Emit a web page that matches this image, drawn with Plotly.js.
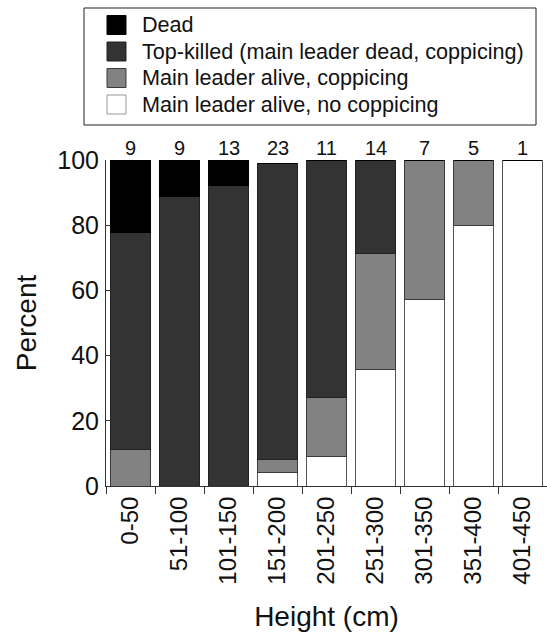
<!DOCTYPE html>
<html>
<head>
<meta charset="utf-8">
<script src="https://cdn.plot.ly/plotly-3.0.1.min.js"></script>
<style>html,body{margin:0;padding:0;background:#fff;}#chart{width:547px;height:633px;}</style>
</head>
<body>
<div id="chart"></div>
<script>
const categories = ['0-50','51-100','101-150','151-200','201-250','251-300','301-350','351-400','401-450'];
const counts = [9, 9, 13, 23, 11, 14, 7, 5, 1];
const aliveNoCoppicing = [0, 0, 0, 4, 9.1, 35.7, 57.1, 80, 100];
const aliveCoppicing = [11.1, 0, 0, 4, 18.2, 35.7, 42.9, 20, 0];
const topKilled = [66.7, 88.9, 92.3, 91, 72.7, 28.6, 0, 0, 0];
const dead = [22.2, 11.1, 7.7, 0, 0, 0, 0, 0, 0];

const seriesNames = ['Main leader alive, no coppicing', 'Main leader alive, coppicing', 'Top-killed (main leader dead, coppicing)', 'Dead'];
const seriesValues = [aliveNoCoppicing, aliveCoppicing, topKilled, dead];
const fills = ['#ffffff', '#828282', '#333333', '#000000'];
const outlines = ['#555555', '#3a3a3a', '#222222', '#000000'];

const W = 547, H = 633;
const M = {l: 106, r: 0, t: 160, b: 147};
const plotW = W - M.l - M.r, plotH = H - M.t - M.b;
const px = v => (v - M.l) / plotW;          // pixel x -> paper x
const py = v => (H - M.b - v) / plotH;      // pixel y -> paper y

const traces = seriesValues.map((vals, k) => ({
  type: 'bar', x: categories, y: vals, name: seriesNames[k],
  marker: {color: fills[k], line: {color: outlines[k], width: 1}},
  showlegend: false, hoverinfo: 'skip'
}));

const annotations = counts.map((c, i) => ({
  x: categories[i], y: 100, xref: 'x', yref: 'y', text: String(c),
  showarrow: false, yanchor: 'bottom', yshift: -1, font: {size: 20, color: '#111'}
}));

// legend (top to bottom: Dead, Top-killed, coppicing, no coppicing)
const shapes = [{
  type: 'rect', xref: 'paper', yref: 'paper',
  x0: px(84), x1: px(536), y0: py(125), y1: py(8),
  line: {color: '#222', width: 1}, fillcolor: '#ffffff'
}];
const legendOrder = [3, 2, 1, 0];
const rowY = [25, 51.5, 78, 104.5];
legendOrder.forEach((k, r) => {
  shapes.push({
    type: 'rect', xref: 'paper', yref: 'paper',
    x0: px(107), x1: px(126), y0: py(rowY[r] + 9.5), y1: py(rowY[r] - 9.5),
    line: {color: k === 0 ? '#999' : outlines[k], width: 1}, fillcolor: fills[k]
  });
  annotations.push({
    xref: 'paper', yref: 'paper', x: px(140), y: py(rowY[r]),
    xanchor: 'left', yanchor: 'middle', showarrow: false,
    text: seriesNames[k], font: {size: 21.6, color: '#111'}
  });
});

const layout = {
  width: W, height: H,
  margin: {l: M.l, r: M.r, t: M.t, b: M.b, pad: 0},
  barmode: 'stack', bargap: 0.2,
  paper_bgcolor: '#ffffff', plot_bgcolor: '#ffffff',
  font: {family: '"Liberation Sans", Arial, sans-serif', color: '#111'},
  showlegend: false,
  xaxis: {
    type: 'category', range: [-0.5, 8.5], tickson: 'boundaries',
    ticks: 'outside', ticklen: 7, tickcolor: '#333', tickwidth: 1,
    showline: true, linecolor: '#333', linewidth: 1, showgrid: false,
    tickangle: -90, tickfont: {size: 24},
    title: {text: 'Height (cm)', font: {size: 28}, standoff: 22}
  },
  yaxis: {
    range: [0, 100], dtick: 20, ticks: 'inside', ticklen: 5, tickcolor: '#333',
    showline: true, linecolor: '#333', linewidth: 1, showgrid: false, zeroline: false,
    tickfont: {size: 25}, ticklabelstandoff: 1,
    title: {text: 'Percent', font: {size: 28}, standoff: 12}
  },
  shapes: shapes,
  annotations: annotations
};

Plotly.newPlot('chart', traces, layout, {displayModeBar: false, staticPlot: true});
</script>
</body>
</html>
